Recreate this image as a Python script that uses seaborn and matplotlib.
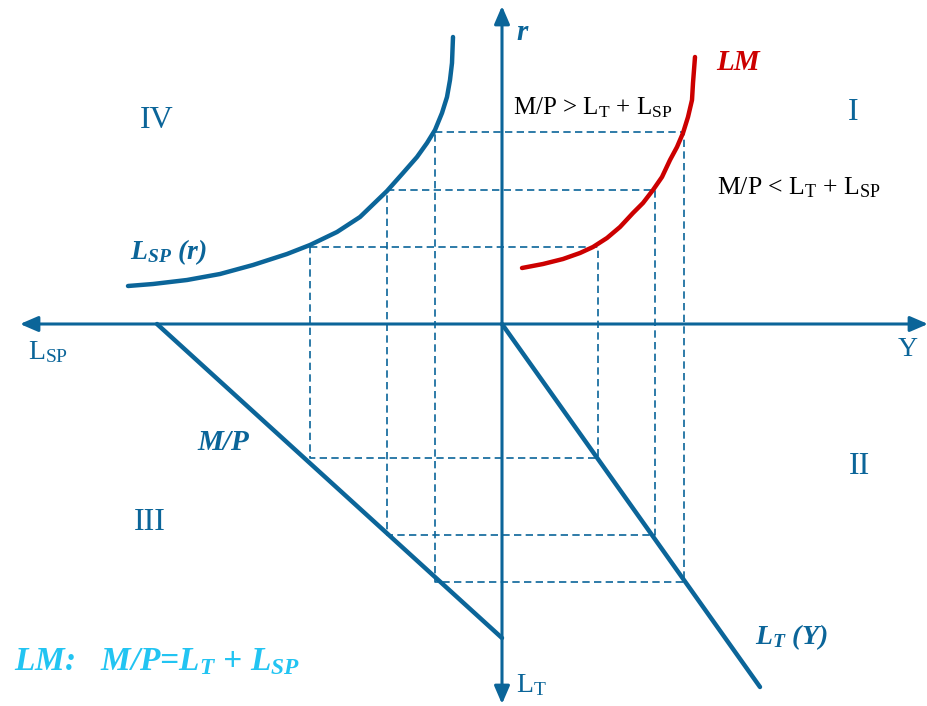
import numpy as np
import pandas as pd
import matplotlib
matplotlib.use('Agg')
import matplotlib.pyplot as plt
import seaborn as sns

# diagram units: origin where the axes cross, 1 unit ~ 1 px
# quadrant I: Y vs r, II: Y vs L_T, III: L_SP vs L_T, IV: L_SP vs r
lm_y = [20, 41, 61, 78, 91, 105, 118, 131, 141, 151, 160, 168, 175, 181, 186, 190, 191, 192, 193]
lm_r = [56, 60, 65, 71, 77, 86, 97, 111, 121, 134, 147, 164, 177, 191, 207, 224, 241, 254, 267]

lsp_x = [-374, -349, -315, -282, -249, -215, -192, -165, -142, -115, -99, -85, -75, -67, -60, -55, -52, -50, -49]
lsp_r = [38, 40, 44, 50, 59, 70, 79, 92, 107, 133, 151, 167, 181, 194, 211, 227, 244, 261, 287]

mp_lsp = [-345, 0]
mp_lt = [0, -314]

lt_y = [0, 258]
lt_lt = [0, -363]

# the three points tying the quadrants together
pt_lsp = [-192, -115, -67]
pt_y = [96, 153, 182]
pt_r = [77, 134, 192]
pt_lt = [-134, -211, -258]

quadrants = ['I', 'II', 'III', 'IV']
quad_x = [351, 358, -352, -345]
quad_y = [212, -142, -198, 204]

blue = '#0b6599'
red = '#cc0000'
cyan = '#22c4f2'

sns.set_theme(style='white')
plt.rcParams['mathtext.fontset'] = 'custom'
plt.rcParams['mathtext.rm'] = 'Liberation Serif'
plt.rcParams['mathtext.it'] = 'Liberation Serif:italic:bold'
plt.rcParams['mathtext.bf'] = 'Liberation Serif:bold'

fig = plt.figure(figsize=(9.28, 7.06), dpi=100)
ax = fig.add_axes([0, 0, 1, 1])
ax.set_xlim(-502, 426)
ax.set_ylim(-382, 324)
ax.axis('off')

# dashed rectangles
dash = (0, (4.4, 2.6))
for i in range(3):
    ax.plot([pt_lsp[i], pt_y[i], pt_y[i], pt_lsp[i], pt_lsp[i]],
            [pt_r[i], pt_r[i], pt_lt[i], pt_lt[i], pt_r[i]],
            color=blue, lw=1.2, linestyle=dash, zorder=1)

# axes with arrows
arr = dict(arrowstyle='<|-|>,head_length=0.72,head_width=0.31', color=blue,
           lw=2.2, shrinkA=0, shrinkB=0, mutation_scale=15)
ax.annotate('', xy=(426, 0), xytext=(-482, 0), arrowprops=arr, zorder=2)
ax.annotate('', xy=(0, 318), xytext=(0, -380), arrowprops=arr, zorder=2)

# curves
kw = dict(sort=False, estimator=None, lw=3.2, ax=ax, zorder=3, solid_joinstyle='round')
sns.lineplot(x=lsp_x, y=lsp_r, color=blue, **kw)
sns.lineplot(x=mp_lsp, y=mp_lt, color=blue, **kw)
sns.lineplot(x=lt_y, y=lt_lt, color=blue, **kw)
sns.lineplot(x=lm_y, y=lm_r, color=red, **kw)

serif = 'Liberation Serif'
bi = dict(family=serif, style='italic', weight='bold')

ax.text(14, 292, 'r', color=blue, fontsize=21, va='center', ha='left', **bi)
ax.text(236, 262, 'LM', color=red, fontsize=21, va='center', ha='center', **bi)
ax.text(-372, 72, 'L$_{SP}$ (r)', color=blue, fontsize=20, va='center', ha='left', **bi)
ax.text(-305, -119, 'M/P', color=blue, fontsize=21, va='center', ha='left', **bi)
ax.text(253, -313, 'L$_{T}$ (Y)', color=blue, fontsize=20, va='center', ha='left', **bi)
ax.text(-488, -338, 'LM:   M/P=L$_{T}$ + L$_{SP}$', color=cyan, fontsize=24,
        va='center', ha='left', **bi)

ax.text(11, 216, 'M/P > L$_\\mathrm{T}$ + L$_\\mathrm{SP}$', color='black', fontsize=18,
        family=serif, va='center', ha='left')
ax.text(215, 136, 'M/P < L$_\\mathrm{T}$ + L$_\\mathrm{SP}$', color='black', fontsize=18.5,
        family=serif, va='center', ha='left')

ax.text(-474, -28, 'L$_\\mathrm{SP}$', color=blue, fontsize=20, family=serif, va='center', ha='left')
ax.text(406, -26, 'Y', color=blue, fontsize=20, family=serif, va='center', ha='center')
ax.text(14, -361, 'L$_\\mathrm{T}$', color=blue, fontsize=20, family=serif, va='center', ha='left')

for s, x, y in zip(quadrants, quad_x, quad_y):
    ax.text(x, y, s, color=blue, fontsize=23, family=serif,
            va='center', ha='center')

fig.savefig('out.png', dpi=100)
